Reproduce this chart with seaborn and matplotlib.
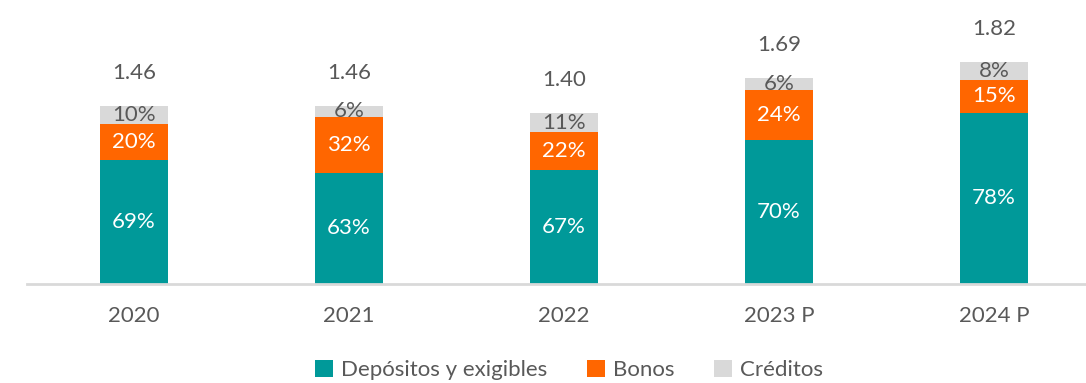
import numpy as np
import pandas as pd
import matplotlib
matplotlib.use("Agg")
import matplotlib.pyplot as plt
import seaborn as sns
from matplotlib.patches import Patch

# Funding mix by year (total in trillions, shares in percent)
years = ["2020", "2021", "2022", "2023 P", "2024 P"]
totals = [1.46, 1.46, 1.40, 1.69, 1.82]
depositos = [69, 63, 67, 70, 78]
bonos = [20, 32, 22, 24, 15]
creditos = [10, 6, 11, 6, 8]

series_names = ["Depósitos y exigibles", "Bonos", "Créditos"]
colors = ["#009999", "#FF6600", "#D9D9D9"]
label_colors = ["white", "white", "#595959"]
text_color = "#595959"

sns.set_theme(style="white")
plt.rcParams["font.family"] = ["Lato", "DejaVu Sans"]

W, H, DPI = 1086, 383, 100
fig = plt.figure(figsize=(W / DPI, H / DPI), dpi=DPI)

# axes placed in pixel terms: baseline at y=284 from top, categories 215 px apart
base_px = 284
unit_px = 121.9
spacing = 215
left_px = 134 - spacing / 2
ax_w = spacing * 5
ax_h = base_px
ax = fig.add_axes([left_px / W, (H - base_px) / H, ax_w / W, ax_h / H])

shares = np.array([depositos, bonos, creditos], dtype=float)
norm = shares / shares.sum(axis=0)
seg = norm * np.array(totals)
cum = np.cumsum(seg, axis=0)

# overlay cumulative bars from the top layer down
for i in range(2, -1, -1):
    df = pd.DataFrame({"year": years, "value": cum[i]})
    sns.barplot(data=df, x="year", y="value", color=colors[i], width=0.316,
                saturation=1, ax=ax, linewidth=0)

ax.set_xlim(-0.5, 4.5)
ax.set_ylim(0, ax_h / unit_px)

# segment labels
pct_vals = [depositos, bonos, creditos]
for i in range(3):
    for j in range(len(years)):
        y = cum[i][j] - seg[i][j] / 2
        ax.text(j, y, f"{pct_vals[i][j]}%", ha="center", va="center",
                fontsize=16, color=label_colors[i])

# totals above bars
for j, t in enumerate(totals):
    ax.text(j, t + 33 / unit_px, f"{t:.2f}", ha="center", va="center",
            fontsize=16, color=text_color)

sns.despine(ax=ax, left=True, top=True, right=True)
ax.spines["bottom"].set_color("#D9D9D9")
ax.spines["bottom"].set_linewidth(2)
ax.set_yticks([])
ax.set_xlabel("")
ax.set_ylabel("")
ax.tick_params(axis="x", length=0, pad=16, labelsize=16, labelcolor=text_color)

handles = [Patch(facecolor=c, edgecolor="none") for c in colors]
fig.legend(handles, series_names, loc="center", bbox_to_anchor=(569 / W, 1 - 370 / H),
           ncol=3, frameon=False, fontsize=16, labelcolor=text_color,
           handlelength=0.8, handleheight=0.8, handletextpad=0.35, columnspacing=1.8,
           borderpad=0.1)

fig.savefig("out.png", dpi=DPI)
